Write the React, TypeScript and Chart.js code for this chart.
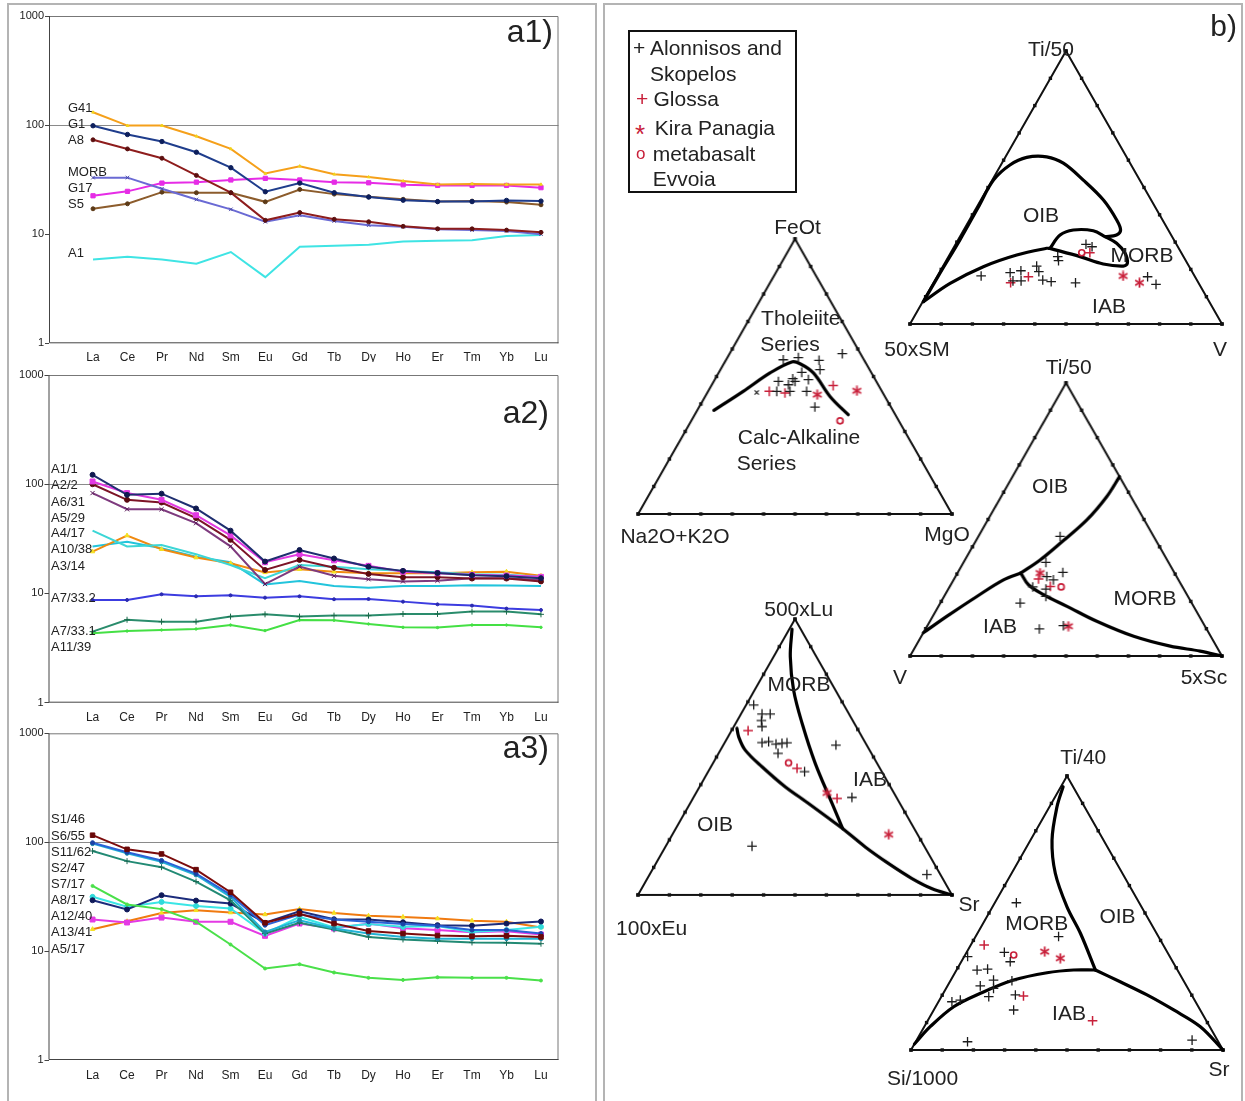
import React, { useEffect, useRef } from "react";
import { Chart, registerables } from "chart.js";
Chart.register(...registerables);

const FONT = '"Liberation Sans", Arial, Helvetica, sans-serif';

// ---------------- spider diagrams (chondrite-normalised REE) ----------------
const ELEMENTS = ["La", "Ce", "Pr", "Nd", "Sm", "Eu", "Gd", "Tb", "Dy", "Ho", "Er", "Tm", "Yb", "Lu"];
const Y_TICKS = [1, 10, 100, 1000];

// a1
const G41 = [131, 99, 99, 79, 60.5, 36, 42, 35.4, 33.4, 30.7, 28.6, 28.9, 28.6, 28.6];
const G1 = [98.6, 82, 70.7, 56.4, 40.7, 24.5, 29.4, 24, 21.9, 20.5, 19.9, 19.9, 20.4, 20.1];
const A8 = [73.3, 60.5, 49.7, 34.6, 24, 13.4, 15.8, 13.7, 13, 11.8, 11.2, 11.2, 10.9, 10.4];
const MORB = [33, 33, 26.1, 20.8, 16.9, 13, 14.9, 13.2, 12.1, 11.7, 11.1, 10.9, 10.7, 10];
const G17 = [22.5, 24.7, 29.4, 30, 31.4, 32.5, 31.4, 30, 29.6, 28.4, 28, 28, 28, 26.7];
const S5 = [17.1, 19, 24.3, 24, 24, 19.8, 25.7, 23.3, 22, 20.9, 19.9, 20.1, 19.7, 18.6];
const A1 = [5.87, 6.21, 5.87, 5.36, 6.86, 4.04, 7.68, 7.85, 8.02, 8.55, 8.73, 8.79, 9.63, 9.84];

// a2
const A1_1 = [122, 80, 82, 60, 37.6, 19.6, 25, 20.9, 17.6, 16.1, 15.4, 14.7, 14.4, 13.8];
const A2_2 = [106, 83, 72, 52, 34, 19.3, 22.9, 20.1, 17.9, 15.8, 15.3, 14.8, 14.6, 14.2];
const A6_31 = [100, 72, 68, 49, 31, 16.4, 20.3, 17.2, 15.1, 14.1, 14.1, 13.7, 13.7, 12.9];
const A5_29 = [83, 59, 59, 44, 27, 12.2, 17.6, 14.5, 13.5, 12.9, 13.1, 13.8, 13.8, 13.3];
const A4_17 = [37.6, 26.9, 27.8, 22.9, 18.2, 13.8, 18.2, 17.6, 16.7, 16.1, 15.6, 15, 14.8, 14.2];
const A10_38 = [24.2, 33.9, 25.4, 21.3, 18.9, 15.6, 16.7, 15.8, 15.3, 15.3, 15.3, 15.6, 15.8, 14.5];
const A3_14 = [26.9, 29.8, 25.9, 21.7, 19.3, 12.1, 13, 11.7, 11.3, 11.7, 11.7, 11.9, 11.8, 11.7];
const A7_33_2 = [8.72, 8.72, 9.83, 9.42, 9.62, 9.16, 9.42, 8.85, 8.9, 8.42, 7.95, 7.74, 7.27, 7.06];
const A7_33_1 = [4.47, 5.75, 5.52, 5.52, 6.14, 6.44, 6.14, 6.27, 6.27, 6.49, 6.49, 6.82, 6.82, 6.44];
const A11_39 = [4.32, 4.53, 4.63, 4.73, 5.14, 4.57, 5.71, 5.69, 5.26, 4.9, 4.87, 5.14, 5.14, 4.9];

// a3
const S1_46 = [116, 86, 78, 56, 34.7, 18.2, 22, 17.9, 15.3, 14.5, 13.9, 13.7, 13.8, 13.5];
const S6_55 = [99, 81, 68, 51.5, 33, 17.3, 21.7, 19.5, 18.6, 17.7, 17.1, 15.6, 15.6, 14.5];
const S11_62 = [97, 79, 66, 50, 31.5, 15, 19.2, 16.1, 14.5, 13.5, 13, 13, 13, 13];
const S2_47 = [83, 67, 59, 43.5, 29.3, 14.5, 18.2, 15.8, 13.5, 12.8, 12.4, 12, 11.9, 11.7];
const S7_17 = [39.7, 26.8, 24.3, 18.6, 11.5, 6.92, 7.58, 6.36, 5.68, 5.44, 5.76, 5.68, 5.68, 5.37];
const A8_17 = [29.3, 24.1, 32.6, 29.1, 27.3, 18.2, 23.2, 19.6, 19.5, 18.4, 17.3, 17.1, 17.9, 18.7];
const A12_40 = [31.5, 25.5, 28.3, 26, 24.6, 14.5, 20.6, 16.5, 17.7, 16.7, 17, 15, 15.6, 16.7];
const A13_41 = [19.5, 18.3, 20.3, 18.6, 18.6, 13.8, 17.9, 16.1, 17.9, 16.2, 15.6, 14.9, 15.2, 14.2];
const A5_17 = [15.9, 18.8, 22.4, 23.7, 22.6, 21.7, 24.3, 22.4, 21.1, 20.6, 19.9, 19, 18.6, 16.5];

// ---------------- ternary diagrams: compositions [top, left, right] in % ----------------
// b1: Ti/50 - 50xSM - V
const T1_ALON = [[17.6, 68.4, 14.0], [18.8, 58.5, 22.7], [19.5, 54.7, 25.8], [21.2, 48.8, 30.0], [19.2, 49.1, 31.7], [15.8, 59.1, 25.1], [15.8, 56.5, 27.7], [16.1, 49.4, 34.5], [15.5, 47.0, 37.5], [15.1, 39.4, 45.5], [24.7, 40.3, 35.0], [23.2, 40.8, 36.0], [29.2, 29.0, 41.8], [28.3, 27.5, 44.2], [17.3, 15.2, 67.5], [14.5, 13.9, 71.6]];
const T1_GLOSSA = [[15.1, 60.2, 24.7], [17.3, 53.4, 29.3], [26.1, 29.3, 44.6]];
const T1_KIRA = [[17.6, 22.9, 59.5], [15.1, 18.9, 66.0]];
const T1_EVVOIA = [[26.1, 31.9, 42.0]];
const T1_OIB = [[8.2, 91.6, 0.2], [18.6, 81.1, 0.3], [30.8, 68.6, 0.6], [42.5, 57.0, 0.5], [52.7, 46.9, 0.4], [58.2, 38.8, 2.9], [61.1, 32.1, 6.9], [61.3, 25.6, 13.2], [58.9, 21.4, 19.7], [52.7, 18.1, 29.2], [45.4, 15.3, 39.3], [38.1, 14.7, 47.2], [34.4, 15.3, 50.3], [32.6, 17.5, 49.9], [32.0, 21.5, 46.5]];
const T1_MORB = [[27.7, 41.3, 31.0], [32.6, 35.6, 31.8], [34.4, 30.4, 35.1], [34.2, 24.2, 41.7], [32.0, 21.5, 46.5], [29.6, 19.0, 51.5], [25.9, 18.1, 56.0], [22.2, 19.2, 58.5], [21.2, 21.0, 57.7], [22.0, 27.1, 51.0], [24.7, 33.2, 42.2], [27.7, 41.3, 31.0]];
const T1_IAB = [[8.2, 91.6, 0.2], [14.9, 79.7, 5.4], [21.0, 66.0, 13.0], [25.3, 53.2, 21.6], [27.7, 42.3, 29.9], [27.7, 41.3, 31.0]];

// b2: FeOt - Na2O+K2O - MgO
const T2_ALON = [[56.1, 25.7, 18.2], [56.9, 20.5, 22.6], [55.9, 14.4, 29.7], [58.3, 5.8, 35.9], [51.5, 22.1, 26.4], [52.5, 15.8, 31.7], [49.2, 26.1, 24.7], [48.2, 31.2, 20.6], [47.0, 28.6, 24.4], [48.2, 25.9, 25.9], [48.8, 21.3, 29.8], [44.6, 24.0, 31.4], [44.6, 33.5, 21.9], [44.6, 29.3, 26.1], [38.9, 24.2, 36.9]];
const T2_X = [[44.2, 40.1, 15.7]];
const T2_GLOSSA = [[44.6, 35.9, 19.5], [44.0, 31.2, 24.8], [46.7, 14.5, 38.8]];
const T2_KIRA = [[43.4, 21.2, 35.4], [44.8, 7.9, 47.3]];
const T2_EVVOIA = [[33.9, 18.7, 47.4]];
const T2_DIVIDE = [[37.7, 57.0, 5.3], [44.6, 44.2, 11.2], [51.3, 32.3, 16.4], [55.3, 23.4, 21.3], [54.7, 21.1, 24.3], [51.3, 18.5, 30.2], [42.8, 17.5, 39.8], [36.1, 15.0, 48.9]];

// b3: Ti/50 - V - 5xSc
const T3_ALON = [[43.8, 30.0, 26.2], [34.3, 39.3, 26.4], [30.6, 35.7, 33.7], [29.1, 41.6, 29.3], [27.9, 40.1, 32.0], [25.3, 48.0, 26.7], [24.5, 44.2, 31.3], [21.8, 45.5, 32.6], [19.4, 55.0, 25.6], [9.9, 53.6, 36.5], [11.1, 45.3, 43.6]];
const T3_GLOSSA = [[28.2, 44.7, 27.1], [25.5, 42.3, 32.2]];
const T3_KIRA = [[30.4, 43.1, 26.5], [10.9, 43.8, 45.3]];
const T3_EVVOIA = [[25.3, 38.9, 35.8]];
const T3_OIB_MORB = [[65.7, 0, 34.3], [58.4, 7.7, 33.9], [49.9, 18.4, 31.8], [41.3, 31.2, 27.5], [35.2, 40.7, 24.1], [30.4, 49.3, 20.3]];
const T3_OIB_IAB = [[30.4, 49.3, 20.3], [27.9, 56.1, 16.0], [21.8, 67.7, 10.5], [14.5, 81.0, 4.5], [8.5, 91.5, 0]];
const T3_IAB_MORB = [[30.4, 49.3, 20.3], [26.1, 49.0, 24.9], [22.5, 46.0, 31.5], [18.2, 40.6, 41.2], [12.7, 33.8, 53.5], [7.2, 24.7, 68.1], [3.6, 14.8, 81.6], [1.8, 6.1, 92.2], [0, 0, 100]];

// b4: 500xLu - 100xEu - Sr
const T4_ALON = [[68.9, 28.7, 2.4], [65.6, 27.7, 6.7], [65.6, 25.1, 9.3], [63.2, 29.1, 7.7], [61.0, 30.0, 9.0], [55.2, 32.9, 11.9], [55.6, 30.6, 13.8], [54.7, 28.7, 16.6], [55.0, 26.7, 18.4], [55.2, 25.0, 19.9], [51.3, 29.7, 18.9], [44.7, 24.6, 30.7], [54.4, 9.8, 35.9], [35.4, 14.2, 50.5], [17.7, 54.9, 27.5], [7.4, 4.3, 88.3]];
const T4_GLOSSA = [[59.6, 35.2, 5.3], [45.9, 26.4, 27.7], [35.0, 19.1, 45.9]];
const T4_KIRA = [[37.0, 21.3, 41.7], [21.9, 9.2, 68.9]];
const T4_EVVOIA = [[47.9, 28.1, 24.0]];
const T4_MORB_IAB = [[96.4, 2.8, 0.9], [86.4, 8.3, 5.3], [74.3, 13.3, 12.4], [62.2, 16.6, 21.1], [47.7, 19.7, 32.6], [33.2, 21.6, 45.2], [24.1, 22.8, 53.1]];
const T4_OIB_MORB = [[60.4, 38.3, 1.3], [57.4, 39.3, 3.4], [52.5, 39.6, 7.9], [46.5, 37.3, 16.3], [39.2, 33.5, 27.3], [33.2, 29.1, 37.7], [24.1, 22.8, 53.1]];
const T4_OIB_IAB = [[24.1, 22.8, 53.1], [17.4, 18.9, 63.7], [11.4, 14.5, 74.1], [6.0, 9.8, 84.3], [2.3, 5.2, 92.5], [0, 0, 100]];

// b5: Ti/40 - Si/1000 - Sr
const T5_ALON = [[53.8, 39.4, 6.9], [41.4, 32.0, 26.6], [34.1, 64.8, 1.1], [35.7, 52.3, 12.1], [32.2, 52.1, 15.7], [29.2, 64.3, 6.6], [29.5, 60.7, 9.8], [25.5, 60.8, 13.7], [23.4, 66.1, 10.5], [22.5, 62.3, 15.2], [25.3, 55.0, 19.7], [19.5, 65.4, 15.2], [17.6, 78.0, 4.3], [18.2, 75.1, 6.7], [20.1, 56.5, 23.4], [14.6, 59.8, 25.6], [3.0, 80.3, 16.6], [3.6, 8.1, 88.2]];
const T5_GLOSSA = [[38.3, 57.4, 4.3], [19.7, 54.1, 26.2], [10.7, 36.5, 52.9]];
const T5_KIRA = [[35.9, 39.2, 24.9], [33.5, 35.4, 31.1]];
const T5_EVVOIA = [[34.7, 49.8, 15.6]];
const T5_MORB_OIB = [[96.1, 3.2, 0.7], [88.8, 8.8, 2.4], [76.6, 16.5, 6.9], [64.5, 21.5, 14.0], [52.3, 23.9, 23.9], [42.6, 24.4, 33.0], [29.2, 26.3, 44.5]];
const T5_OIB_IAB = [[29.2, 26.3, 44.5], [24.9, 20.5, 54.6], [20.1, 14.3, 65.6], [14.6, 8.5, 76.9], [8.5, 3.0, 88.5], [0, 0, 100]];
const T5_IAB_MORB = [[2.2, 97.8, 0], [8.5, 89.6, 1.9], [15.8, 78.5, 5.8], [20.7, 67.4, 11.9], [25.5, 54.3, 20.1], [28.2, 42.3, 29.5], [29.2, 33.3, 37.5], [29.2, 26.3, 44.5]];

// ---------------- styles ----------------
const RED = "#c8203a";
const INK = "#1c1c1c";

type Series = { name: string; values: number[]; color: string; marker?: string; style?: string; radius?: number };

const A1_SERIES: Series[] = [
  { name: "G41", values: G41, color: "#f5a01a", marker: "#f2d41c", style: "triangle", radius: 1.6 },
  { name: "G1", values: G1, color: "#1f3d8c", marker: "#0d1f5c", style: "circle", radius: 2.2 },
  { name: "A8", values: A8, color: "#8e1d1d", marker: "#5c0f0f", style: "circle", radius: 2 },
  { name: "MORB", values: MORB, color: "#6a6ad4", marker: "#4b4ba8", style: "crossRot", radius: 2.5 },
  { name: "G17", values: G17, color: "#e62ce6", marker: "#e62ce6", style: "rect", radius: 3 },
  { name: "S5", values: S5, color: "#8c5c2c", marker: "#5c3a17", style: "circle", radius: 2 },
  { name: "A1", values: A1, color: "#3fe4e4", radius: 0 },
];
const A2_SERIES: Series[] = [
  { name: "A1/1", values: A1_1, color: "#1f2f70", marker: "#101a50", style: "circle", radius: 2.5 },
  { name: "A2/2", values: A2_2, color: "#e23ae2", marker: "#e23ae2", style: "rect", radius: 3.5 },
  { name: "A6/31", values: A6_31, color: "#7c1426", marker: "#5a0a10", style: "circle", radius: 2.5 },
  { name: "A5/29", values: A5_29, color: "#7e3a7e", marker: "#5a1a5a", style: "crossRot", radius: 3 },
  { name: "A4/17", values: A4_17, color: "#3cd6d6", radius: 0 },
  { name: "A10/38", values: A10_38, color: "#f08a10", marker: "#f5e020", style: "triangle", radius: 2.5 },
  { name: "A3/14", values: A3_14, color: "#22c4dc", radius: 0 },
  { name: "A7/33.2", values: A7_33_2, color: "#3c3ce0", marker: "#2a2ab0", style: "circle", radius: 1.5 },
  { name: "A7/33.1", values: A7_33_1, color: "#2a8c6c", marker: "#1a6a4a", style: "cross", radius: 3 },
  { name: "A11/39", values: A11_39, color: "#44e044", marker: "#44e044", style: "circle", radius: 1.2 },
];
const A3_SERIES: Series[] = [
  { name: "S1/46", values: S1_46, color: "#7c0c0c", marker: "#6a0808", style: "rect", radius: 3.2 },
  { name: "S6/55", values: S6_55, color: "#2a62d6", marker: "#1a42a6", style: "circle", radius: 2 },
  { name: "S11/62", values: S11_62, color: "#22b2d6", marker: "#1a8aa6", style: "circle", radius: 2 },
  { name: "S2/47", values: S2_47, color: "#228a74", marker: "#1a6a54", style: "cross", radius: 3 },
  { name: "S7/17", values: S7_17, color: "#4ae04a", marker: "#4ae04a", style: "circle", radius: 1.5 },
  { name: "A8/17", values: A8_17, color: "#1c2c7c", marker: "#101a5a", style: "circle", radius: 2.5 },
  { name: "A12/40", values: A12_40, color: "#3ae6e6", marker: "#30dada", style: "circle", radius: 2.5 },
  { name: "A13/41", values: A13_41, color: "#e43ae4", marker: "#e43ae4", style: "rect", radius: 3.5 },
  { name: "A5/17", values: A5_17, color: "#f07a10", marker: "#f5e020", style: "triangle", radius: 2.5 },
];

const X_MIN = -1.277;
const X_MAX = 13.508;

const framePlugin = {
  id: "spiderFrame",
  afterDatasetsDraw(chart: any) {
    const { ctx, chartArea: a } = chart;
    ctx.save();
    ctx.lineWidth = 1;
    ctx.strokeStyle = "#777";
    ctx.beginPath();
    ctx.moveTo(a.left, a.top + 0.5);
    ctx.lineTo(a.right - 0.5, a.top + 0.5);
    ctx.lineTo(a.right - 0.5, a.bottom);
    ctx.stroke();
    ctx.strokeStyle = "#444";
    ctx.beginPath();
    ctx.moveTo(a.left + 0.5, a.top);
    ctx.lineTo(a.left + 0.5, a.bottom - 0.5);
    ctx.lineTo(a.right, a.bottom - 0.5);
    ctx.stroke();
    ctx.restore();
  },
};

function SpiderChart({ series, box, area, pad }: any) {
  const ref = useRef<HTMLCanvasElement>(null);
  useEffect(() => {
    const chart = new Chart(ref.current as HTMLCanvasElement, {
      type: "line",
      data: {
        datasets: series.map((s: Series) => ({
          label: s.name,
          data: s.values.map((v, i) => ({ x: i, y: v })),
          borderColor: s.color,
          borderWidth: 2,
          pointStyle: s.style || "circle",
          pointRadius: s.radius === undefined ? 2 : s.radius,
          pointBackgroundColor: s.marker || s.color,
          pointBorderColor: s.marker || s.color,
          pointBorderWidth: 1,
          tension: 0,
          fill: false,
        })),
      },
      options: {
        animation: false,
        responsive: false,
        maintainAspectRatio: false,
        devicePixelRatio: 1,
        events: [],
        layout: { padding: { left: 0, top: area.top - box.top, right: box.left + box.width - area.right, bottom: 0 } },
        plugins: { legend: { display: false }, tooltip: { enabled: false } },
        scales: {
          x: {
            type: "linear",
            min: X_MIN,
            max: X_MAX,
            bounds: "data",
            afterBuildTicks: (sc: any) => {
              sc.ticks = ELEMENTS.map((_, i) => ({ value: i }));
            },
            afterFit: (sc: any) => {
              sc.height = box.top + box.height - area.bottom;
            },
            ticks: {
              autoSkip: false,
              maxRotation: 0,
              padding: pad,
              color: "#222",
              font: { family: FONT, size: 12 },
              callback: (v: any) => ELEMENTS[v] || "",
            },
            grid: { display: false, drawTicks: false },
            border: { display: false },
          },
          y: {
            type: "logarithmic",
            min: 1,
            max: 1000,
            afterBuildTicks: (sc: any) => {
              sc.ticks = Y_TICKS.map((v) => ({ value: v }));
            },
            afterFit: (sc: any) => {
              sc.width = area.left - box.left;
            },
            ticks: { padding: 1, color: "#222", font: { family: FONT, size: 11 }, callback: (v: any) => String(v) },
            grid: {
              drawTicks: true,
              tickLength: 4,
              tickColor: "#444",
              lineWidth: 1,
              color: (c: any) => (c.tick && c.tick.value === 100 ? "#8a8a8a" : "rgba(0,0,0,0)"),
            },
            border: { display: false },
          },
        },
      } as any,
      plugins: [framePlugin],
    } as any);
    return () => chart.destroy();
  }, []);
  return (
    <canvas
      ref={ref}
      width={box.width}
      height={box.height}
      style={{ position: "absolute", left: box.left, top: box.top, width: box.width, height: box.height }}
    />
  );
}

// ternary composition -> unit-triangle coordinates
function toXY(p: number[]) {
  const s = p[0] + p[1] + p[2];
  const t = p[0] / s;
  const r = p[2] / s;
  return { x: r + t / 2, y: t };
}

// six-armed asterisk marker image
function makeAsterisk(color: string, size: number, lw: number) {
  const c = document.createElement("canvas");
  c.width = size;
  c.height = size;
  const ctx = c.getContext("2d") as CanvasRenderingContext2D;
  ctx.strokeStyle = color;
  ctx.lineWidth = lw;
  ctx.lineCap = "butt";
  const cx = size / 2;
  const r = size / 2 - 0.5;
  for (let k = 0; k < 3; k++) {
    const a = Math.PI / 2 + (k * Math.PI) / 3;
    ctx.beginPath();
    ctx.moveTo(cx + r * Math.cos(a), cx + r * Math.sin(a));
    ctx.lineTo(cx - r * Math.cos(a), cx - r * Math.sin(a));
    ctx.stroke();
  }
  return c;
}

const PAD = 30;

function TernaryChart({ geo, curves, groups }: any) {
  const ref = useRef<HTMLCanvasElement>(null);
  const width = geo.w + PAD * 2;
  const height = geo.h + PAD * 2;
  const left = geo.left - PAD;
  const top = geo.base - geo.h - PAD;
  useEffect(() => {
    const edgeTicks: any[] = [];
    for (let i = 0; i <= 10; i++) {
      const f = i * 10;
      edgeTicks.push(toXY([0, 100 - f, f]), toXY([f, 100 - f, 0]), toXY([f, 0, 100 - f]));
    }
    const asterisk = makeAsterisk(RED, 11, 1.8);
    const datasets: any[] = [];
    groups.forEach((g: any) => {
      datasets.push({
        data: g.pts.map(toXY),
        showLine: false,
        pointStyle: g.style === "asterisk" ? asterisk : g.style,
        pointRadius: g.radius,
        pointBorderColor: g.color,
        pointBackgroundColor: g.fill || "rgba(0,0,0,0)",
        pointBorderWidth: g.width,
        order: 0,
        clip: false,
      });
    });
    curves.forEach((c: number[][]) => {
      datasets.push({
        data: c.map(toXY),
        showLine: true,
        borderColor: "#000",
        borderWidth: 3.2,
        tension: 0.35,
        pointRadius: 0,
        order: 1,
        clip: false,
        borderCapStyle: "round",
        borderJoinStyle: "round",
      });
    });
    datasets.push({
      data: edgeTicks,
      showLine: false,
      pointStyle: "rect",
      pointRadius: 2.4,
      pointBackgroundColor: "#111",
      pointBorderColor: "#111",
      pointBorderWidth: 0,
      order: 2,
      clip: false,
    });
    datasets.push({
      data: [[0, 100, 0], [100, 0, 0], [0, 0, 100], [0, 100, 0]].map(toXY),
      showLine: true,
      borderColor: "#111",
      borderWidth: 2,
      pointRadius: 0,
      tension: 0,
      order: 3,
      clip: false,
    });
    const chart = new Chart(ref.current as HTMLCanvasElement, {
      type: "scatter",
      data: { datasets },
      options: {
        animation: false,
        responsive: false,
        maintainAspectRatio: false,
        devicePixelRatio: 1,
        events: [],
        layout: { padding: PAD },
        plugins: { legend: { display: false }, tooltip: { enabled: false } },
        scales: {
          x: { type: "linear", min: 0, max: 1, display: false },
          y: { type: "linear", min: 0, max: 1, display: false },
        },
      } as any,
    } as any);
    return () => chart.destroy();
  }, []);
  return (
    <canvas
      ref={ref}
      width={width}
      height={height}
      style={{ position: "absolute", left, top, width, height }}
    />
  );
}

const groupsOf = (alon: number[][], glossa: number[][], kira: number[][], evvoia: number[][], extra?: number[][]) => {
  const g: any[] = [
    { pts: alon, style: "cross", radius: 4.8, color: INK, width: 1.3 },
    { pts: glossa, style: "cross", radius: 4.8, color: RED, width: 1.5 },
    { pts: kira, style: "asterisk", radius: 5, color: RED, width: 1.6 },
    { pts: evvoia, style: "circle", radius: 3, color: RED, width: 1.7 },
  ];
  if (extra) g.push({ pts: extra, style: "crossRot", radius: 3, color: INK, width: 1.2 });
  return g;
};

function Txt({ x, y, size = 21, anchor = "center", color = "#222", children }: any) {
  const tx = anchor === "center" ? "-50%" : anchor === "right" ? "-100%" : "0";
  return (
    <div
      style={{
        position: "absolute",
        left: x,
        top: y,
        transform: `translate(${tx}, -50%)`,
        fontFamily: FONT,
        fontSize: size,
        lineHeight: 1,
        color,
        whiteSpace: "nowrap",
      }}
    >
      {children}
    </div>
  );
}

const A1_TAG_Y = [106.7, 122.7, 138.7, 171, 186.7, 203.3, 252.3];
const A2_TAG_Y = [468.3, 484.3, 501, 516.7, 532.3, 548.3, 565, 597.3, 630, 646];
const A3_TAG_Y = [818.3, 835, 851, 866.7, 883.3, 899, 915, 931, 947.7];

export default function App() {
  return (
    <div
      style={{
        position: "absolute",
        left: 0,
        top: 0,
        width: 1245,
        height: 1101,
        background: "#fff",
        overflow: "hidden",
      }}
    >
      {/* panel frames */}
      <div style={{ position: "absolute", left: 7, top: 3, width: 590, height: 1110, border: "2px solid #b4b4b4", boxSizing: "border-box" }} />
      <div style={{ position: "absolute", left: 603, top: 3, width: 640, height: 1110, border: "2px solid #b4b4b4", boxSizing: "border-box" }} />

      <SpiderChart series={A1_SERIES} box={{ left: 9, top: 5, width: 587, height: 357 }} area={{ left: 49, top: 16, right: 558.5, bottom: 343.3 }} pad={7.5} />
      <SpiderChart series={A2_SERIES} box={{ left: 9, top: 364, width: 587, height: 360 }} area={{ left: 48.5, top: 375, right: 558.5, bottom: 702.7 }} pad={7.5} />
      <SpiderChart series={A3_SERIES} box={{ left: 9, top: 722, width: 587, height: 372 }} area={{ left: 48.5, top: 733.3, right: 558.5, bottom: 1060 }} pad={8} />

      <TernaryChart geo={{ left: 910, base: 324, w: 312, h: 273 }} curves={[T1_OIB, T1_MORB, T1_IAB]} groups={groupsOf(T1_ALON, T1_GLOSSA, T1_KIRA, T1_EVVOIA)} />
      <TernaryChart geo={{ left: 638.3, base: 514.3, w: 313.4, h: 275 }} curves={[T2_DIVIDE]} groups={groupsOf(T2_ALON, T2_GLOSSA, T2_KIRA, T2_EVVOIA, T2_X)} />
      <TernaryChart geo={{ left: 910, base: 656.5, w: 311.7, h: 273.8 }} curves={[T3_OIB_MORB, T3_OIB_IAB, T3_IAB_MORB]} groups={groupsOf(T3_ALON, T3_GLOSSA, T3_KIRA, T3_EVVOIA)} />
      <TernaryChart geo={{ left: 637.7, base: 894.7, w: 314, h: 275.4 }} curves={[T4_MORB_IAB, T4_OIB_MORB, T4_OIB_IAB]} groups={groupsOf(T4_ALON, T4_GLOSSA, T4_KIRA, T4_EVVOIA)} />
      <TernaryChart geo={{ left: 910.7, base: 1050, w: 312, h: 274 }} curves={[T5_MORB_OIB, T5_OIB_IAB, T5_IAB_MORB]} groups={groupsOf(T5_ALON, T5_GLOSSA, T5_KIRA, T5_EVVOIA)} />

      {/* spider panel labels */}
      <Txt x={553} y={30.5} size={32} anchor="right">a1)</Txt>
      <Txt x={549} y={412} size={32} anchor="right">a2)</Txt>
      <Txt x={549} y={747} size={32} anchor="right">a3)</Txt>
      {A1_SERIES.map((s, i) => (
        <Txt key={"t1" + i} x={68} y={A1_TAG_Y[i]} size={13} anchor="left">{s.name}</Txt>
      ))}
      {A2_SERIES.map((s, i) => (
        <Txt key={"t2" + i} x={51} y={A2_TAG_Y[i]} size={13} anchor="left">{s.name}</Txt>
      ))}
      {A3_SERIES.map((s, i) => (
        <Txt key={"t3" + i} x={51} y={A3_TAG_Y[i]} size={13} anchor="left">{s.name}</Txt>
      ))}

      {/* b panel */}
      <Txt x={1237} y={26} size={30} anchor="right">b)</Txt>
      <div style={{ position: "absolute", left: 628, top: 30, width: 169, height: 163, border: "2px solid #111", boxSizing: "border-box" }} />
      <Txt x={633} y={46.7} anchor="left">+</Txt>
      <Txt x={650} y={46.7} anchor="left">Alonnisos and</Txt>
      <Txt x={650} y={72.7} anchor="left">Skopelos</Txt>
      <Txt x={636} y={98.3} anchor="left" color={RED}>+</Txt>
      <Txt x={653.5} y={98.3} anchor="left">Glossa</Txt>
      <Txt x={635} y={134} size={26} anchor="left" color={RED}>*</Txt>
      <Txt x={654.8} y={126.7} anchor="left">Kira Panagia</Txt>
      <Txt x={636} y={153} size={17} anchor="left" color={RED}>o</Txt>
      <Txt x={652.7} y={152.7} anchor="left">metabasalt</Txt>
      <Txt x={652.7} y={177.7} anchor="left">Evvoia</Txt>

      {/* ternary 1 */}
      <Txt x={1051} y={48}>Ti/50</Txt>
      <Txt x={917} y={348}>50xSM</Txt>
      <Txt x={1220} y={348}>V</Txt>
      <Txt x={1041} y={213.5}>OIB</Txt>
      <Txt x={1142} y={254}>MORB</Txt>
      <Txt x={1109} y={305}>IAB</Txt>

      {/* ternary 2 */}
      <Txt x={797.5} y={225.5}>FeOt</Txt>
      <Txt x={675} y={535}>Na2O+K2O</Txt>
      <Txt x={947} y={533}>MgO</Txt>
      <Txt x={800.8} y={316.5}>Tholeiite</Txt>
      <Txt x={790} y={343}>Series</Txt>
      <Txt x={799} y={436}>Calc-Alkaline</Txt>
      <Txt x={736.7} y={461.5} anchor="left">Series</Txt>

      {/* ternary 3 */}
      <Txt x={1068.7} y={365.5}>Ti/50</Txt>
      <Txt x={900} y={675.5}>V</Txt>
      <Txt x={1204} y={675.5}>5xSc</Txt>
      <Txt x={1050} y={485}>OIB</Txt>
      <Txt x={1145} y={596.5}>MORB</Txt>
      <Txt x={1000} y={625}>IAB</Txt>

      {/* ternary 4 */}
      <Txt x={798.7} y={608}>500xLu</Txt>
      <Txt x={651.7} y={926.5}>100xEu</Txt>
      <Txt x={969} y={902.5}>Sr</Txt>
      <Txt x={799} y={683}>MORB</Txt>
      <Txt x={870} y={778}>IAB</Txt>
      <Txt x={715} y={823}>OIB</Txt>

      {/* ternary 5 */}
      <Txt x={1083.3} y={756}>Ti/40</Txt>
      <Txt x={922.5} y={1077}>Si/1000</Txt>
      <Txt x={1219} y={1067.5}>Sr</Txt>
      <Txt x={1036.7} y={922}>MORB</Txt>
      <Txt x={1117.5} y={915}>OIB</Txt>
      <Txt x={1069} y={1011.5}>IAB</Txt>
    </div>
  );
}
